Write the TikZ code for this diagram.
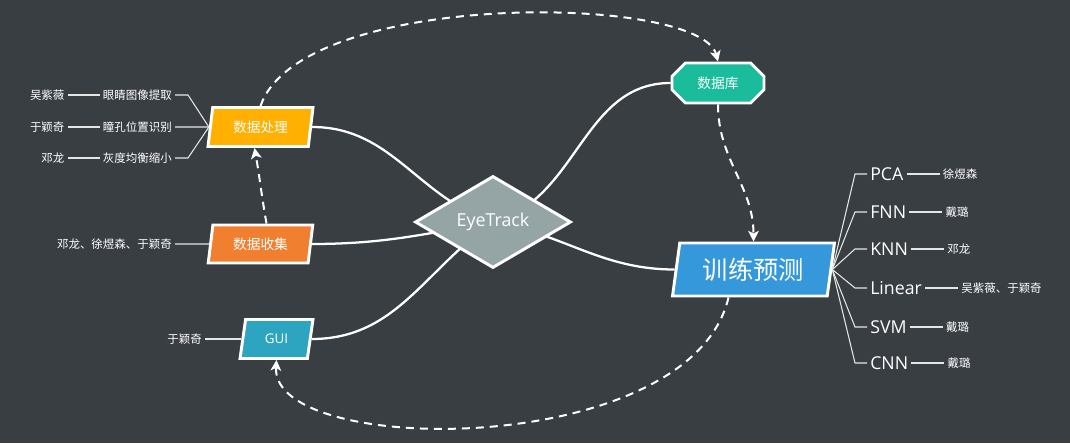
\documentclass[tikz,border=0pt]{standalone}
\usepackage{fontspec}
\setmainfont{Noto Sans CJK SC}
\newfontfamily\latinfont{Open Sans}
\usetikzlibrary{positioning,shapes.geometric,shapes.misc,arrows.meta,backgrounds}

\newlength{\du}
\setlength{\du}{0.75pt}
\definecolor{bgcolor}{rgb}{0.223529, 0.243137, 0.262745}
\definecolor{etfill}{rgb}{0.584314, 0.647059, 0.650980}
\definecolor{dpfill}{rgb}{1.000000, 0.690196, 0.000000}
\definecolor{dcfill}{rgb}{0.941176, 0.501961, 0.188235}
\definecolor{guifill}{rgb}{0.180392, 0.647059, 0.752941}
\definecolor{dbfill}{rgb}{0.101961, 0.737255, 0.611765}
\definecolor{tpfill}{rgb}{0.203922, 0.596078, 0.858824}
\definecolor{leafline}{rgb}{0.900000, 0.900000, 0.900000}

\begin{document}
\begin{tikzpicture}[
  topic/.style={draw=white, line width=2.2pt, text=white, inner sep=0pt},
  slanted/.style={topic, trapezium, trapezium left angle=78, trapezium right angle=102, trapezium stretches=true},
  branch/.style={draw=white, line width=1.7pt},
  flow/.style={draw=white, line width=1.5pt, dash pattern=on 6pt off 4.5pt, -{Stealth[length=8pt,width=8pt,inset=2pt]}},
  leaf/.style={draw=leafline, line width=0.8pt},
  leaftext/.style={text=white, inner sep=3\du, font=\fontsize{8.6}{10}\selectfont},
  algotext/.style={text=white, inner sep=3\du, font=\latinfont\fontsize{13.3}{15}\selectfont}
]
\useasboundingbox (0,0) rectangle (1070\du,443\du);

\node[topic, diamond, aspect=1.7, fill=etfill, minimum width=156\du, minimum height=92\du, font=\latinfont\fontsize{13.4}{15}\selectfont] (et) at (493\du,221\du) {EyeTrack};
\node[slanted, fill=dpfill, minimum width=105\du, minimum height=39\du, font=\fontsize{10.3}{12}\selectfont] (dp) at (260.5\du,316\du) {数据处理};
\node[slanted, fill=dcfill, minimum width=105\du, minimum height=38\du, font=\fontsize{10.3}{12}\selectfont] (dc) at (260.5\du,199\du) {数据收集};
\node[slanted, fill=guifill, minimum width=73\du, minimum height=39\du, font=\latinfont\fontsize{10}{12}\selectfont] (gui) at (276.5\du,104\du) {GUI};
\node[topic, chamfered rectangle, chamfered rectangle xsep=7\du, chamfered rectangle ysep=7\du, fill=dbfill, minimum width=92\du, minimum height=40\du, font=\fontsize{10.3}{12}\selectfont] (db) at (718\du,360\du) {数据库};
\node[slanted, fill=tpfill, minimum width=163\du, minimum height=53\du, font=\fontsize{19}{22}\selectfont] (tp) at (753.5\du,173.5\du) {训练预测};

% left leaves
\node[leaftext, anchor=east] (t1) at (175\du,348\du) {眼睛图像提取};
\node[leaftext, left=32\du of t1] (n1) {吴紫薇};
\node[leaftext, anchor=east] (t2) at (175\du,316\du) {瞳孔位置识别};
\node[leaftext, left=32\du of t2] (n2) {于颖奇};
\node[leaftext, anchor=east] (t3) at (175\du,285\du) {灰度均衡缩小};
\node[leaftext, left=32\du of t3] (n3) {邓龙};
\node[leaftext, anchor=east] (t4) at (175\du,199\du) {邓龙、徐煜森、于颖奇};
\node[leaftext, anchor=east] (t5) at (205\du,104\du) {于颖奇};

% right leaves
\node[algotext, anchor=west] (a1) at (867\du,269\du) {PCA};
\node[leaftext, right=33\du of a1] (m1) {徐煜森};
\node[algotext, anchor=west] (a2) at (867\du,231\du) {FNN};
\node[leaftext, right=33\du of a2] (m2) {戴璐};
\node[algotext, anchor=west] (a3) at (867\du,194\du) {KNN};
\node[leaftext, right=33\du of a3] (m3) {邓龙};
\node[algotext, anchor=west] (a4) at (867\du,155\du) {Linear};
\node[leaftext, right=33\du of a4] (m4) {吴紫薇、于颖奇};
\node[algotext, anchor=west] (a5) at (867\du,116\du) {SVM};
\node[leaftext, right=33\du of a5] (m5) {戴璐};
\node[algotext, anchor=west] (a6) at (867\du,80\du) {CNN};
\node[leaftext, right=33\du of a6] (m6) {戴璐};

\begin{pgfonlayer}{background}
\fill[bgcolor] (0,0) rectangle (1070\du,443\du);
\draw[branch] (et.center) to[out=162,in=0] (dp.east);
\draw[branch] (et.center) to[out=190,in=0] (dc.east);
\draw[branch] (et.center) to[out=215,in=0] (gui.east);
\draw[branch] (et.center) to[out=15,in=180] (db.west);
\draw[branch] (et.center) to[out=-10,in=180] (tp.west);
\end{pgfonlayer}

\draw[leaf] (dp.west) -- ([xshift=13\du]t1.east) -- (t1.east);
\draw[leaf] (dp.west) -- (t2.east);
\draw[leaf] (dp.west) -- ([xshift=13\du]t3.east) -- (t3.east);
\draw[leaf] (t1.west) -- (n1.east);
\draw[leaf] (t2.west) -- (n2.east);
\draw[leaf] (t3.west) -- (n3.east);
\draw[leaf] (dc.west) -- (t4.east);
\draw[leaf] (gui.west) -- (t5.east);

\draw[leaf] (tp.east) -- ([xshift=-12\du]a1.west) -- (a1.west);
\draw[leaf] (tp.east) -- ([xshift=-12\du]a2.west) -- (a2.west);
\draw[leaf] (tp.east) -- ([xshift=-12\du]a3.west) -- (a3.west);
\draw[leaf] (tp.east) -- ([xshift=-12\du]a4.west) -- (a4.west);
\draw[leaf] (tp.east) -- ([xshift=-12\du]a5.west) -- (a5.west);
\draw[leaf] (tp.east) -- ([xshift=-12\du]a6.west) -- (a6.west);
\draw[leaf] (a1.east) -- (m1.west);
\draw[leaf] (a2.east) -- (m2.west);
\draw[leaf] (a3.east) -- (m3.west);
\draw[leaf] (a4.east) -- (m4.west);
\draw[leaf] (a5.east) -- (m5.west);
\draw[leaf] (a6.east) -- (m6.west);

\draw[flow] (dp.north) .. controls +(40\du,117\du) and +(-18\du,68\du) .. (db.north);
\draw[flow] (db.south) to[out=-90,in=90] (tp.north);
\draw[flow] ([xshift=-25\du]tp.south) .. controls +(-38\du,-162\du) and +(-6\du,-98\du) .. (gui.south);
\draw[flow] ([xshift=6\du]dc.north) to[out=100,in=-80] ([xshift=-6\du]dp.south);
\end{tikzpicture}
\end{document}
